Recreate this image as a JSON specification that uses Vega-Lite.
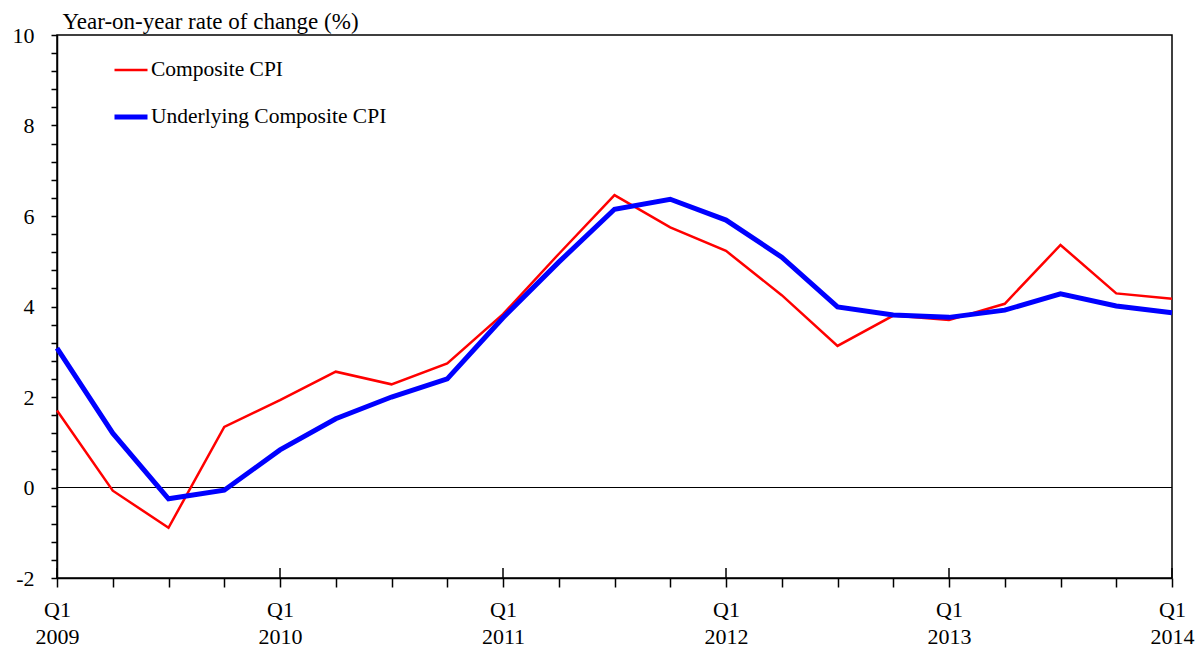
{
  "$schema": "https://vega.github.io/schema/vega-lite/v6.json",
  "width": 1115,
  "height": 543,
  "autosize": {"type": "none"},
  "padding": {"left": 57, "top": 35, "right": 30, "bottom": 73},
  "background": "white",
  "config": {
    "font": "Liberation Serif",
    "view": {"stroke": "black", "strokeWidth": 1.5},
    "axis": {"grid": false, "domainColor": "black", "domainWidth": 1.5, "tickColor": "black", "tickWidth": 1.5, "labelColor": "black", "labelFont": "Liberation Serif", "titleFont": "Liberation Serif"}
  },
  "data": {"values": [
    {"t": 0, "series": "Composite CPI", "value": 1.70},
    {"t": 1, "series": "Composite CPI", "value": -0.07},
    {"t": 2, "series": "Composite CPI", "value": -0.89},
    {"t": 3, "series": "Composite CPI", "value": 1.34},
    {"t": 4, "series": "Composite CPI", "value": 1.93},
    {"t": 5, "series": "Composite CPI", "value": 2.56},
    {"t": 6, "series": "Composite CPI", "value": 2.28},
    {"t": 7, "series": "Composite CPI", "value": 2.74},
    {"t": 8, "series": "Composite CPI", "value": 3.83},
    {"t": 9, "series": "Composite CPI", "value": 5.16},
    {"t": 10, "series": "Composite CPI", "value": 6.46},
    {"t": 11, "series": "Composite CPI", "value": 5.75},
    {"t": 12, "series": "Composite CPI", "value": 5.23},
    {"t": 13, "series": "Composite CPI", "value": 4.25},
    {"t": 14, "series": "Composite CPI", "value": 3.13},
    {"t": 15, "series": "Composite CPI", "value": 3.80},
    {"t": 16, "series": "Composite CPI", "value": 3.70},
    {"t": 17, "series": "Composite CPI", "value": 4.06},
    {"t": 18, "series": "Composite CPI", "value": 5.36},
    {"t": 19, "series": "Composite CPI", "value": 4.29},
    {"t": 20, "series": "Composite CPI", "value": 4.17},
    {"t": 0, "series": "Underlying Composite CPI", "value": 3.08},
    {"t": 1, "series": "Underlying Composite CPI", "value": 1.20},
    {"t": 2, "series": "Underlying Composite CPI", "value": -0.25},
    {"t": 3, "series": "Underlying Composite CPI", "value": -0.06},
    {"t": 4, "series": "Underlying Composite CPI", "value": 0.83},
    {"t": 5, "series": "Underlying Composite CPI", "value": 1.52},
    {"t": 6, "series": "Underlying Composite CPI", "value": 2.00},
    {"t": 7, "series": "Underlying Composite CPI", "value": 2.40},
    {"t": 8, "series": "Underlying Composite CPI", "value": 3.75},
    {"t": 9, "series": "Underlying Composite CPI", "value": 4.98},
    {"t": 10, "series": "Underlying Composite CPI", "value": 6.15},
    {"t": 11, "series": "Underlying Composite CPI", "value": 6.37},
    {"t": 12, "series": "Underlying Composite CPI", "value": 5.91},
    {"t": 13, "series": "Underlying Composite CPI", "value": 5.09},
    {"t": 14, "series": "Underlying Composite CPI", "value": 3.99},
    {"t": 15, "series": "Underlying Composite CPI", "value": 3.81},
    {"t": 16, "series": "Underlying Composite CPI", "value": 3.76},
    {"t": 17, "series": "Underlying Composite CPI", "value": 3.92},
    {"t": 18, "series": "Underlying Composite CPI", "value": 4.28},
    {"t": 19, "series": "Underlying Composite CPI", "value": 4.01},
    {"t": 20, "series": "Underlying Composite CPI", "value": 3.86}
  ]},
  "layer": [
    {
      "mark": {"type": "rule", "color": "black", "strokeWidth": 1.2},
      "encoding": {"y": {"datum": 0, "type": "quantitative"}}
    },
    {
      "transform": [{"filter": "datum.t % 4 == 0 && datum.series == 'Composite CPI'"}],
      "mark": {"type": "rule", "color": "black", "strokeWidth": 1.5},
      "encoding": {
        "x": {"field": "t", "type": "quantitative"},
        "y": {"datum": -2, "type": "quantitative"},
        "y2": {"datum": -1.78}
      }
    },
    {
      "mark": {"type": "line", "strokeJoin": "miter", "strokeCap": "butt"},
      "encoding": {
        "x": {
          "field": "t", "type": "quantitative",
          "scale": {"domain": [0, 20], "nice": false, "zero": false},
          "axis": {
            "title": null,
            "values": [0,1,2,3,4,5,6,7,8,9,10,11,12,13,14,15,16,17,18,19,20],
            "tickCount": 100,
            "tickSize": 9,
            "labelPadding": 12,
            "labelFontSize": 22,
            "labelFlush": false,
            "labelOverlap": false,
            "labelLineHeight": 27,
            "labelBaseline": "top",
            "labelExpr": "datum.value % 4 == 0 ? ['Q1', '' + (2009 + datum.value / 4)] : ''"
          }
        },
        "y": {
          "field": "value", "type": "quantitative",
          "scale": {"domain": [-2, 10], "nice": false, "zero": false},
          "axis": {
            "values": [-2,-1.6,-1.2,-0.8,-0.4,0,0.4,0.8,1.2,1.6,2,2.4,2.8,3.2,3.6,4,4.4,4.8,5.2,5.6,6,6.4,6.8,7.2,7.6,8,8.4,8.8,9.2,9.6,10],
            "tickCount": 100,
            "tickSize": 6,
            "labelPadding": 17,
            "labelFontSize": 22,
            "labelOverlap": false,
            "labelFlush": false,
            "labelExpr": "abs(datum.value - round(datum.value / 2) * 2) < 0.001 ? '' + round(datum.value) : ''",
            "title": "Year-on-year rate of change (%)",
            "titleAngle": 0,
            "titleAlign": "left",
            "titleBaseline": "alphabetic",
            "titleX": 5,
            "titleY": -7,
            "titleFontSize": 23,
            "titleFontWeight": "normal",
            "titleColor": "black"
          }
        },
        "color": {
          "field": "series", "type": "nominal",
          "scale": {"domain": ["Composite CPI", "Underlying Composite CPI"], "range": ["#ff0000", "#0000ff"]},
          "legend": {
            "title": null,
            "orient": "none",
            "legendX": 55,
            "legendY": 17,
            "padding": 0,
            "symbolType": "stroke",
            "symbolSize": 1089,
            "labelFont": "Liberation Serif",
            "labelFontSize": 21.5,
            "labelColor": "black",
            "labelOffset": 1,
            "rowPadding": 17,
            "labelLimit": 400
          }
        },
        "strokeWidth": {
          "field": "series", "type": "nominal",
          "scale": {"domain": ["Composite CPI", "Underlying Composite CPI"], "range": [2.5, 5]}
        }
      }
    }
  ]
}
